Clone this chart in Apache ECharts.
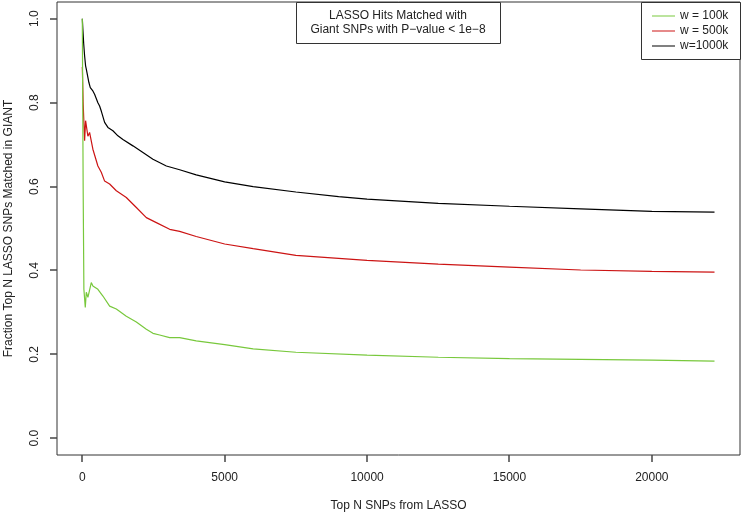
<!DOCTYPE html>
<html>
<head>
<meta charset="utf-8">
<script src="https://cdn.jsdelivr.net/npm/echarts@6/dist/echarts.min.js"></script>
<style>
  html, body { margin: 0; padding: 0; background: #fff; }
  #main { width: 742px; height: 516px; }
</style>
</head>
<body>
<div id="main"></div>
<script>
// values
var xTicks = [0, 5000, 10000, 15000, 20000]
var yTicks = [0, 0.2, 0.4, 0.6, 0.8, 1.0]
var legendNames = ['w = 100k', 'w = 500k', 'w=1000k']

var nBlack = [1, 21, 50, 81, 116, 141, 162, 232, 281, 372, 432, 492, 548, 608, 667, 784, 900, 1075, 1251, 1427, 1778, 2130, 2481, 2952, 3419, 4000, 5000, 6000, 7500, 9000, 10000, 12500, 15000, 17500, 20000, 22200]
var fracBlack = [1.0, 0.974, 0.94, 0.912, 0.888, 0.880, 0.884, 0.848, 0.836, 0.828, 0.820, 0.816, 0.800, 0.792, 0.780, 0.753, 0.741, 0.733, 0.721, 0.712, 0.697, 0.681, 0.665, 0.649, 0.640, 0.628, 0.611, 0.600, 0.587, 0.576, 0.570, 0.560, 0.553, 0.547, 0.541, 0.539]

var nRed = [1, 30, 81, 116, 141, 197, 256, 372, 430, 548, 667, 784, 960, 1195, 1546, 1898, 2249, 2600, 3068, 3419, 4000, 5000, 6000, 7500, 10000, 12500, 15000, 17500, 20000, 22200]
var fracRed = [0.885, 0.80, 0.709, 0.757, 0.753, 0.720, 0.729, 0.689, 0.685, 0.649, 0.634, 0.613, 0.606, 0.590, 0.574, 0.550, 0.526, 0.514, 0.498, 0.493, 0.481, 0.463, 0.452, 0.436, 0.424, 0.415, 0.408, 0.401, 0.398, 0.396]

var nGreen = [1, 30, 56, 105, 141, 197, 316, 372, 432, 548, 724, 960, 1195, 1546, 1898, 2249, 2481, 2716, 3068, 3419, 4000, 5000, 6000, 7500, 10000, 12500, 15000, 17500, 20000, 22200]
var fracGreen = [1.0, 0.60, 0.355, 0.312, 0.348, 0.336, 0.371, 0.363, 0.367, 0.355, 0.339, 0.315, 0.308, 0.291, 0.277, 0.260, 0.250, 0.246, 0.240, 0.240, 0.232, 0.223, 0.213, 0.205, 0.198, 0.193, 0.190, 0.188, 0.186, 0.184]

function pairs(xs, ys) {
    return xs.map(function (x, i) { return [x, ys[i]] })
}

var font = "'Liberation Sans', Arial, sans-serif"
var W = 742, H = 516
var G = { left: 57, right: 2, top: 2, bottom: 61 }
var xMin = -888, xMax = 23095, yMin = -0.04, yMax = 1.04

// tick marks sit outside the box, like base R axes
var tickMarks = []
xTicks.forEach(function (v) {
    var px = Math.round(G.left + (v - xMin) / (xMax - xMin) * (W - G.left - G.right))
    tickMarks.push({ type: 'line', z: 100, shape: { x1: px, y1: H - G.bottom, x2: px, y2: H - G.bottom + 7 }, style: { stroke: '#444', lineWidth: 1.5 } })
})
yTicks.forEach(function (v) {
    var py = Math.round(H - G.bottom - (v - yMin) / (yMax - yMin) * (H - G.top - G.bottom))
    tickMarks.push({ type: 'line', z: 100, shape: { x1: G.left - 7, y1: py, x2: G.left, y2: py }, style: { stroke: '#444', lineWidth: 1.5 } })
})

var chart = echarts.init(document.getElementById('main'))

var option = {
    animation: false,
    textStyle: { fontFamily: font },
    grid: {
        left: G.left, right: G.right, top: G.top, bottom: G.bottom,
        outerBoundsMode: 'none', containLabel: false,
        show: true, borderColor: '#333', borderWidth: 1
    },
    xAxis: {
        type: 'value',
        min: xMin,
        max: xMax,
        name: 'Top N SNPs from LASSO',
        nameLocation: 'middle',
        nameGap: 45,
        nameTextStyle: { fontSize: 12, color: '#222', fontFamily: font },
        axisLine: { show: false, onZero: false },
        axisTick: { show: false },
        axisLabel: {
            customValues: xTicks, margin: 17, fontSize: 12, color: '#222', fontFamily: font,
            formatter: function (v) { return String(v) }
        },
        splitLine: { show: false }
    },
    yAxis: {
        type: 'value',
        min: yMin,
        max: yMax,
        name: 'Fraction Top N LASSO SNPs Matched in GIANT',
        nameLocation: 'middle',
        nameRotate: 90,
        nameGap: 42,
        nameTextStyle: { fontSize: 12, color: '#222', fontFamily: font },
        axisLine: { show: false, onZero: false },
        axisTick: { show: false },
        axisLabel: {
            customValues: yTicks, rotate: 90, margin: 16, fontSize: 12, color: '#222', fontFamily: font,
            formatter: function (v) { return v.toFixed(1) }
        },
        splitLine: { show: false }
    },
    legend: {
        data: legendNames,
        orient: 'vertical',
        left: 647,
        top: 4,
        icon: 'rect',
        itemWidth: 23,
        itemHeight: 1,
        itemGap: 1,
        textStyle: { fontSize: 12, color: '#222', fontFamily: font, lineHeight: 14 }
    },
    graphic: [
        { type: 'rect', shape: { x: 296.5, y: 2.5, width: 204, height: 41 }, style: { fill: '#fff', stroke: '#333', lineWidth: 1 }, z: 10 },
        { type: 'text', x: 398, y: 16, style: { text: 'LASSO Hits Matched with', align: 'center', verticalAlign: 'middle', fontSize: 12, fill: '#222', fontFamily: font }, z: 11 },
        { type: 'text', x: 398, y: 30, style: { text: 'Giant SNPs with P\u2212value < 1e\u22128', align: 'center', verticalAlign: 'middle', fontSize: 12, fill: '#222', fontFamily: font }, z: 11 },
        { type: 'rect', shape: { x: 641.5, y: 2.5, width: 99, height: 57 }, style: { fill: '#fff', stroke: '#333', lineWidth: 1 }, z: 0 }
    ].concat(tickMarks),
    series: [
        { name: 'w=1000k', type: 'line', symbol: 'none', data: pairs(nBlack, fracBlack), lineStyle: { width: 1.2, color: '#000' }, itemStyle: { color: '#000' } },
        { name: 'w = 500k', type: 'line', symbol: 'none', data: pairs(nRed, fracRed), lineStyle: { width: 1.2, color: '#cc1414' }, itemStyle: { color: '#cc1414' } },
        { name: 'w = 100k', type: 'line', symbol: 'none', data: pairs(nGreen, fracGreen), lineStyle: { width: 1.2, color: '#78c83c' }, itemStyle: { color: '#78c83c' } }
    ]
}
chart.setOption(option)
</script>
</body>
</html>
